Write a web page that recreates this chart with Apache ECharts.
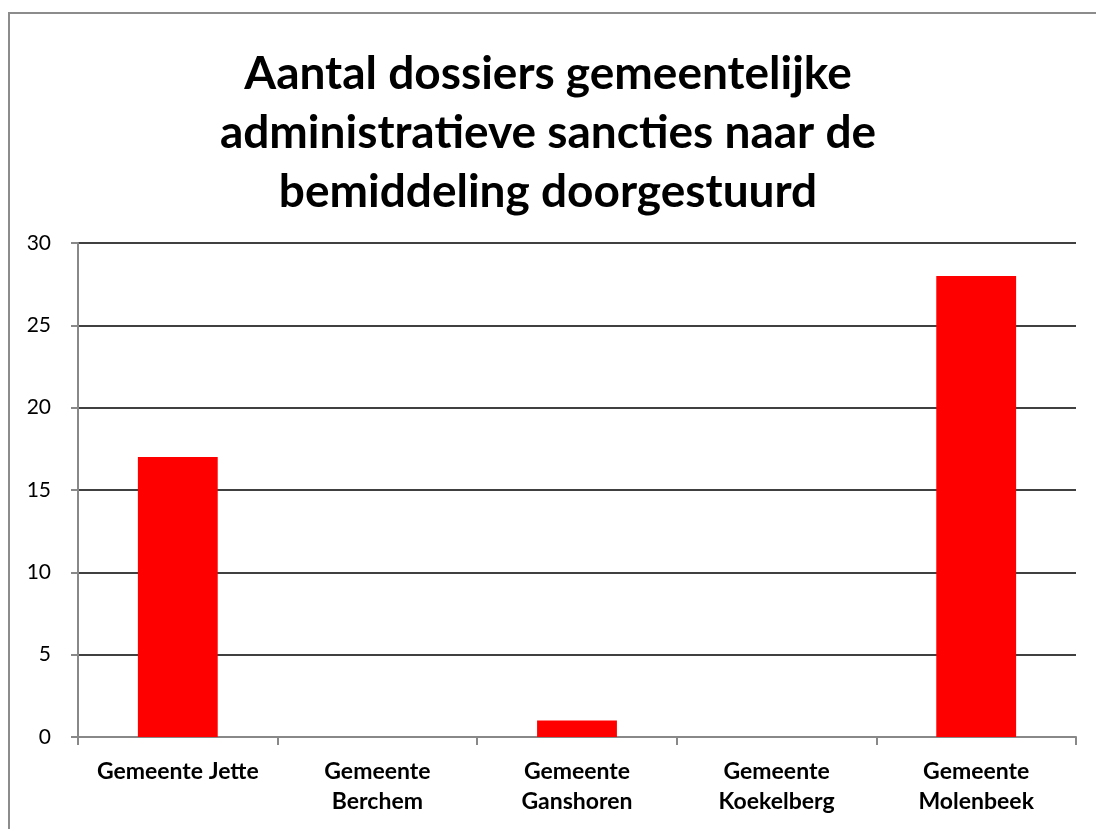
<!DOCTYPE html>
<html><head><meta charset="utf-8">
<script src="https://cdn.jsdelivr.net/npm/echarts@6/dist/echarts.min.js"></script>
<style>html,body{margin:0;padding:0;background:#fff}#c{width:1096px;height:829px}</style>
</head><body><div id="c"></div>
<script>
const titleText = 'Aantal dossiers gemeentelijke\nadministratieve sancties naar de\nbemiddeling doorgestuurd';
const categories = ['Gemeente Jette', 'Gemeente\nBerchem', 'Gemeente\nGanshoren', 'Gemeente\nKoekelberg', 'Gemeente\nMolenbeek'];
const values = [17, 0, 1, 0, 28];
const yTicks = {min: 0, max: 30, interval: 5};

const chart = echarts.init(document.getElementById('c'), null, {renderer: 'canvas'});
chart.setOption({
  backgroundColor: '#fff',
  animation: false,
  graphic: [{type: 'rect', shape: {x: 9, y: 13, width: 1200, height: 900}, style: {fill: 'none', stroke: '#8c8c8c', lineWidth: 2}}],
  title: {
    text: titleText, left: 'center', top: 40,
    textStyle: {fontFamily: 'Lato', fontWeight: 'bold', fontSize: 46, lineHeight: 59, color: '#000'}
  },
  grid: {left: 78, right: 20, top: 243, bottom: 92, containLabel: false},
  xAxis: {
    type: 'category', data: categories,
    axisLine: {lineStyle: {color: '#888', width: 2}},
    axisTick: {show: true, interval: 0, length: 8, lineStyle: {color: '#888', width: 2}},
    axisLabel: {interval: 0, hideOverlap: false, fontFamily: 'Lato', fontWeight: 'bold', fontSize: 23, color: '#000', lineHeight: 30, margin: 20}
  },
  yAxis: {
    type: 'value', min: yTicks.min, max: yTicks.max, interval: yTicks.interval,
    axisLine: {show: true, lineStyle: {color: '#888', width: 2}},
    axisTick: {show: true, length: 7, lineStyle: {color: '#888', width: 2}},
    splitLine: {lineStyle: {color: '#000', width: 1.5}},
    axisLabel: {fontFamily: 'Lato', fontSize: 21, color: '#000', margin: 27}
  },
  series: [{type: 'bar', data: values, barCategoryGap: '60%', itemStyle: {color: '#ff0000'}}]
});
</script></body></html>
